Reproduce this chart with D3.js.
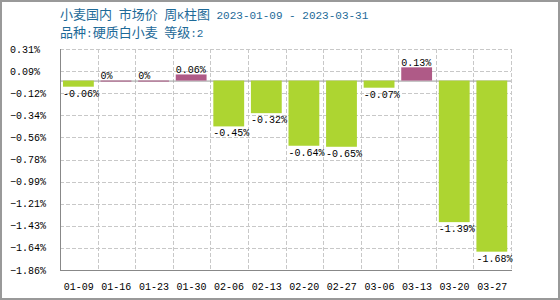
<!DOCTYPE html>
<html>
<head>
<meta charset="utf-8">
<script src="https://cdn.jsdelivr.net/npm/d3@7"></script>
<style>
  body { margin: 0; background: #fff; }
  svg { display: block; }
</style>
</head>
<body>
<svg id="chart" width="560" height="300"></svg>
<script>
const dates = ['01-09','01-16','01-23','01-30','02-06','02-13','02-20','02-27','03-06','03-13','03-20','03-27'];
const changes = [-0.06, 0, 0, 0.06, -0.45, -0.32, -0.64, -0.65, -0.07, 0.13, -1.39, -1.68];
const yTicks = [0.31, 0.093, -0.124, -0.341, -0.558, -0.775, -0.992, -1.209, -1.426, -1.643, -1.86];
const titleParts = [['小麦国内', 'cjk'], [' ', 'mono'], ['市场价', 'cjk'], [' ', 'mono'], ['周', 'cjk'], ['K', 'mono'], ['柱图', 'cjk'], [' 2023-01-09 - 2023-03-31', 'mono']];
const subtitleParts = [['品种', 'cjk'], [':', 'mono'], ['硬质白小麦', 'cjk'], [' ', 'mono'], ['等级', 'cjk'], [':2', 'mono']];

const green = '#add531';
const purple = '#af5a87';
const mono = '"Liberation Mono", "DejaVu Sans Mono", monospace';
const cjk = '"Noto Sans CJK SC", sans-serif';

const plotL = 60, plotR = 511, plotT = 49, plotB = 270;

const svg = d3.select('#chart');

svg.append('rect')
    .attr('x', 1).attr('y', 1)
    .attr('width', 558).attr('height', 298)
    .style('fill', '#fff')
    .style('stroke', '#999')
    .style('stroke-width', 2);

const x = d3.scaleBand().domain(dates).range([plotL, plotR]).paddingInner(0).paddingOuter(0);
const y = d3.scaleLinear().domain([-1.86, 0.31]).range([plotB, plotT]);

// title
function addTitle(parts, ty) {
    let t = svg.append('text')
        .attr('x', plotL).attr('y', ty)
        .attr('xml:space', 'preserve')
        .style('fill', '#1d6a98');
    parts.forEach(p => {
        t.append('tspan')
            .text(p[0])
            .style('font-family', p[1] == 'cjk' ? cjk : mono)
            .style('font-size', p[1] == 'cjk' ? '13px' : '11px');
    });
}
addTitle(titleParts, 19);
addTitle(subtitleParts, 37);

// grid
svg.append('g').selectAll('line')
    .data(yTicks.slice(0, -1))
    .enter().append('line')
    .attr('x1', plotL).attr('x2', plotR)
    .attr('y1', d => Math.round(y(d)) + 0.5)
    .attr('y2', d => Math.round(y(d)) + 0.5)
    .style('stroke', '#c8c8c8')
    .style('stroke-dasharray', '4,2');
svg.append('g').selectAll('line')
    .data(dates)
    .enter().append('line')
    .attr('x1', d => Math.round(x(d) + x.bandwidth()) + 0.5)
    .attr('x2', d => Math.round(x(d) + x.bandwidth()) + 0.5)
    .attr('y1', plotT).attr('y2', plotB)
    .style('stroke', '#c8c8c8')
    .style('stroke-dasharray', '4,2');

// zero line
svg.append('line')
    .attr('x1', plotL).attr('x2', plotR)
    .attr('y1', y(0) + 0.5).attr('y2', y(0) + 0.5)
    .style('stroke', '#999')
    .style('stroke-width', 1);

// bars
const barOff = 3, barW = x.bandwidth() * 0.82;
svg.append('g').selectAll('rect')
    .data(changes)
    .enter().append('rect')
    .attr('x', (d, i) => x(dates[i]) + barOff)
    .attr('width', barW)
    .attr('y', d => d >= 0 ? y(d) : y(0))
    .attr('height', d => Math.max(1, Math.abs(y(d) - y(0))))
    .style('fill', d => d >= 0 ? purple : green);

// value labels
svg.append('g').selectAll('text')
    .data(changes)
    .enter().append('text')
    .attr('x', (d, i) => x(dates[i]) + barOff)
    .attr('y', d => d >= 0 ? y(d) - 1.5 : y(d) + 10)
    .style('font-family', mono)
    .style('font-size', '10px')
    .style('fill', '#000')
    .text(d => d + '%');

// axes
svg.append('line')
    .attr('x1', plotL + 0.5).attr('x2', plotL + 0.5)
    .attr('y1', plotT).attr('y2', plotB + 1)
    .style('stroke', '#888');
svg.append('line')
    .attr('x1', plotL).attr('x2', plotR + 1)
    .attr('y1', plotB + 0.5).attr('y2', plotB + 0.5)
    .style('stroke', '#888');

svg.append('g').selectAll('text')
    .data(yTicks)
    .enter().append('text')
    .attr('x', 10)
    .attr('y', d => y(d))
    .attr('dy', '0.35em')
    .style('font-family', mono)
    .style('font-size', '10px')
    .text(d => d3.format('.2f')(d) + '%');

svg.append('g').selectAll('text')
    .data(dates)
    .enter().append('text')
    .attr('x', d => x(d) + x.bandwidth() / 2)
    .attr('y', 290)
    .attr('text-anchor', 'middle')
    .style('font-family', mono)
    .style('font-size', '10px')
    .text(d => d);
</script>
</body>
</html>
